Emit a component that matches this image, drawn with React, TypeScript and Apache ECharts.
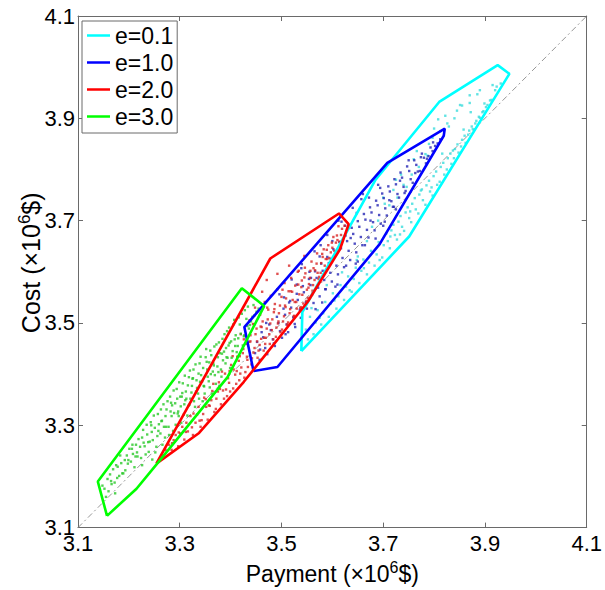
import React, { useEffect, useRef } from "react";
import * as echarts from "echarts";

// Legend labels, one per eccentricity level
const legendLabels = ["e=0.1", "e=1.0", "e=2.0", "e=3.0"];
const tickValues = [3.1, 3.3, 3.5, 3.7, 3.9, 4.1];
const axisRange = [3.1, 4.1];

// Convex hulls (payment, cost) in 10^6 $
const hullE01 = [
  [3.539, 3.445], [3.751, 3.669], [3.948, 3.987], [3.925, 4.004],
  [3.81, 3.932], [3.685, 3.78], [3.541, 3.521], [3.539, 3.445],
];
const hullE10 = [
  [3.445, 3.406], [3.492, 3.414], [3.693, 3.654], [3.819, 3.866],
  [3.821, 3.88], [3.708, 3.813], [3.427, 3.492], [3.445, 3.406],
];
const hullE20 = [
  [3.254, 3.225], [3.338, 3.285], [3.426, 3.385], [3.552, 3.542],
  [3.615, 3.644], [3.632, 3.693], [3.613, 3.714], [3.478, 3.626], [3.254, 3.225],
];
const hullE30 = [
  [3.157, 3.123], [3.215, 3.176], [3.254, 3.223], [3.394, 3.394],
  [3.466, 3.533], [3.422, 3.568], [3.139, 3.19], [3.157, 3.123],
];

// Sampled outcomes (payment, cost)
const pointsE01 = [
  [3.548, 3.487], [3.556, 3.512], [3.563, 3.478], [3.571, 3.525], [3.578, 3.497], [3.586, 3.541],
  [3.593, 3.512], [3.601, 3.558], [3.608, 3.528], [3.616, 3.574], [3.623, 3.545], [3.631, 3.591],
  [3.638, 3.561], [3.646, 3.608], [3.653, 3.578], [3.661, 3.624], [3.668, 3.595], [3.676, 3.641],
  [3.683, 3.612], [3.691, 3.658], [3.698, 3.628], [3.706, 3.675], [3.713, 3.646], [3.72, 3.692],
  [3.727, 3.663], [3.734, 3.709], [3.741, 3.68], [3.748, 3.726], [3.755, 3.697], [3.762, 3.744],
  [3.769, 3.714], [3.776, 3.761], [3.783, 3.731], [3.79, 3.778], [3.797, 3.749], [3.804, 3.796],
  [3.811, 3.776], [3.818, 3.813], [3.825, 3.8], [3.832, 3.831], [3.839, 3.822], [3.846, 3.849],
  [3.853, 3.845], [3.86, 3.866], [3.867, 3.868], [3.874, 3.884], [3.881, 3.89], [3.888, 3.903],
  [3.895, 3.912], [3.902, 3.922], [3.91, 3.935], [3.92, 3.955], [3.931, 3.968],
  [3.8, 3.88], [3.822, 3.905], [3.845, 3.915], [3.79, 3.85], [3.76, 3.82], [3.735, 3.79],
  [3.87, 3.93], [3.89, 3.955], [3.72, 3.76], [3.7, 3.745],
  [3.552, 3.468], [3.567, 3.501], [3.582, 3.519], [3.597, 3.538], [3.612, 3.552], [3.627, 3.571],
  [3.642, 3.586], [3.657, 3.602], [3.672, 3.618], [3.687, 3.634], [3.701, 3.652], [3.709, 3.66],
  [3.716, 3.681], [3.723, 3.672], [3.73, 3.698], [3.737, 3.688], [3.744, 3.716], [3.751, 3.705],
  [3.757, 3.733], [3.764, 3.722], [3.771, 3.751], [3.778, 3.74], [3.785, 3.769], [3.792, 3.757],
  [3.799, 3.787], [3.806, 3.77], [3.813, 3.805], [3.82, 3.79], [3.827, 3.822], [3.834, 3.811],
  [3.841, 3.84], [3.848, 3.833], [3.855, 3.858], [3.862, 3.852], [3.869, 3.876], [3.876, 3.879],
  [3.883, 3.895], [3.89, 3.901], [3.897, 3.914], [3.905, 3.926], [3.913, 3.936], [3.923, 3.962],
  [3.756, 3.79], [3.77, 3.805], [3.783, 3.83], [3.797, 3.862], [3.812, 3.875], [3.826, 3.89],
  [3.84, 3.9], [3.855, 3.925], [3.87, 3.945], [3.74, 3.77], [3.728, 3.745], [3.712, 3.73],
  [3.69, 3.7], [3.668, 3.66], [3.65, 3.63],
  [3.559, 3.529], [3.575, 3.51], [3.589, 3.574], [3.604, 3.544], [3.619, 3.599], [3.634, 3.564],
  [3.648, 3.623], [3.662, 3.607], [3.678, 3.688], [3.693, 3.623], [3.703, 3.733], [3.714, 3.669],
  [3.725, 3.78], [3.733, 3.673], [3.746, 3.766], [3.753, 3.718], [3.766, 3.836], [3.774, 3.759],
  [3.787, 3.827], [3.795, 3.765], [3.808, 3.898], [3.816, 3.831], [3.829, 3.884], [3.837, 3.837],
  [3.851, 3.926], [3.858, 3.878], [3.872, 3.912], [3.885, 3.947], [3.899, 3.929], [3.915, 3.965],
];
const pointsE10 = [
  [3.452, 3.463], [3.461, 3.482], [3.468, 3.451], [3.476, 3.497], [3.483, 3.468], [3.491, 3.512],
  [3.497, 3.484], [3.504, 3.528], [3.51, 3.497], [3.517, 3.543], [3.523, 3.511], [3.53, 3.557],
  [3.536, 3.526], [3.542, 3.572], [3.548, 3.541], [3.554, 3.586], [3.56, 3.555], [3.566, 3.601],
  [3.572, 3.569], [3.578, 3.616], [3.584, 3.584], [3.59, 3.629], [3.596, 3.598], [3.602, 3.644],
  [3.608, 3.612], [3.614, 3.658], [3.62, 3.627], [3.626, 3.671], [3.632, 3.641], [3.638, 3.686],
  [3.644, 3.655], [3.65, 3.699], [3.656, 3.668], [3.662, 3.713], [3.668, 3.682], [3.674, 3.726],
  [3.68, 3.697], [3.686, 3.739], [3.692, 3.711], [3.698, 3.753], [3.704, 3.724], [3.71, 3.767],
  [3.716, 3.738], [3.722, 3.781], [3.728, 3.752], [3.734, 3.794], [3.74, 3.766], [3.747, 3.806],
  [3.754, 3.781], [3.761, 3.818], [3.768, 3.796], [3.776, 3.831], [3.784, 3.812], [3.793, 3.843],
  [3.802, 3.846], [3.812, 3.859],
  [3.54, 3.615], [3.565, 3.64], [3.59, 3.672], [3.612, 3.7], [3.52, 3.585], [3.64, 3.725],
  [3.66, 3.752], [3.58, 3.54], [3.61, 3.575], [3.65, 3.62], [3.7, 3.69], [3.725, 3.722],
  [3.448, 3.441], [3.457, 3.428], [3.464, 3.472], [3.472, 3.439], [3.479, 3.486], [3.487, 3.455],
  [3.494, 3.5], [3.501, 3.471], [3.507, 3.516], [3.513, 3.482], [3.519, 3.53], [3.526, 3.498],
  [3.532, 3.545], [3.538, 3.51], [3.544, 3.56], [3.55, 3.528], [3.557, 3.574], [3.563, 3.539],
  [3.569, 3.588], [3.575, 3.552], [3.581, 3.602], [3.587, 3.566], [3.593, 3.617], [3.599, 3.581],
  [3.605, 3.631], [3.611, 3.595], [3.617, 3.646], [3.623, 3.609], [3.629, 3.66], [3.635, 3.623],
  [3.641, 3.674], [3.647, 3.638], [3.653, 3.688], [3.659, 3.652], [3.665, 3.702], [3.671, 3.667],
  [3.677, 3.716], [3.683, 3.681], [3.689, 3.73], [3.695, 3.694], [3.701, 3.744], [3.707, 3.71],
  [3.713, 3.757], [3.719, 3.727], [3.725, 3.771], [3.731, 3.745], [3.737, 3.784], [3.744, 3.758],
  [3.751, 3.797], [3.758, 3.774], [3.765, 3.809], [3.772, 3.797], [3.78, 3.823], [3.789, 3.826],
  [3.797, 3.836], [3.807, 3.851], [3.555, 3.6], [3.575, 3.63], [3.6, 3.66], [3.625, 3.69],
  [3.648, 3.715], [3.672, 3.745], [3.69, 3.77], [3.53, 3.575], [3.505, 3.55],
  [3.458, 3.448], [3.47, 3.5], [3.485, 3.46], [3.496, 3.556], [3.508, 3.478], [3.515, 3.54],
  [3.527, 3.492], [3.539, 3.607], [3.546, 3.531], [3.558, 3.588], [3.567, 3.527], [3.577, 3.652],
  [3.586, 3.566], [3.597, 3.625], [3.606, 3.571], [3.618, 3.698], [3.627, 3.612], [3.636, 3.666],
  [3.646, 3.616], [3.657, 3.742], [3.664, 3.652], [3.675, 3.7], [3.685, 3.665], [3.694, 3.764],
  [3.703, 3.698], [3.712, 3.74], [3.721, 3.727], [3.733, 3.778], [3.742, 3.754], [3.75, 3.818],
  [3.763, 3.793], [3.774, 3.824], [3.786, 3.821], [3.798, 3.853],
];
const pointsE20 = [
  [3.268, 3.241], [3.279, 3.262], [3.284, 3.252], [3.292, 3.281], [3.297, 3.259], [3.305, 3.297],
  [3.309, 3.272], [3.316, 3.288], [3.321, 3.318], [3.326, 3.281], [3.331, 3.305], [3.337, 3.336],
  [3.341, 3.297], [3.346, 3.322], [3.351, 3.351], [3.355, 3.311], [3.359, 3.338], [3.364, 3.367],
  [3.368, 3.326], [3.372, 3.352], [3.377, 3.384], [3.381, 3.341], [3.385, 3.368], [3.389, 3.401],
  [3.393, 3.357], [3.397, 3.383], [3.401, 3.418], [3.405, 3.372], [3.409, 3.399], [3.413, 3.434],
  [3.417, 3.388], [3.421, 3.413], [3.425, 3.449], [3.429, 3.404], [3.433, 3.428], [3.437, 3.463],
  [3.441, 3.419], [3.445, 3.442], [3.449, 3.478], [3.453, 3.432], [3.457, 3.457], [3.461, 3.492],
  [3.465, 3.446], [3.469, 3.471], [3.473, 3.507], [3.477, 3.459], [3.481, 3.486], [3.485, 3.521],
  [3.489, 3.473], [3.493, 3.499], [3.497, 3.534], [3.501, 3.487], [3.505, 3.513], [3.509, 3.548],
  [3.513, 3.501], [3.517, 3.527], [3.521, 3.561], [3.525, 3.514], [3.529, 3.541], [3.533, 3.575],
  [3.537, 3.529], [3.541, 3.555], [3.545, 3.589], [3.549, 3.543], [3.553, 3.569], [3.557, 3.602],
  [3.561, 3.563], [3.565, 3.584], [3.569, 3.616], [3.573, 3.586], [3.577, 3.598], [3.581, 3.629],
  [3.585, 3.612], [3.589, 3.643], [3.594, 3.627], [3.599, 3.657], [3.604, 3.641], [3.609, 3.671],
  [3.614, 3.659], [3.619, 3.684],
  [3.462, 3.561], [3.471, 3.584], [3.448, 3.53], [3.492, 3.596], [3.515, 3.612], [3.437, 3.505],
  [3.42, 3.478], [3.545, 3.631],
  [3.272, 3.252], [3.288, 3.271], [3.301, 3.284], [3.313, 3.305], [3.324, 3.296], [3.334, 3.321],
  [3.343, 3.31], [3.352, 3.336], [3.362, 3.349], [3.371, 3.332], [3.379, 3.371], [3.387, 3.352],
  [3.395, 3.392], [3.399, 3.366], [3.406, 3.409], [3.411, 3.381], [3.416, 3.426], [3.419, 3.401],
  [3.424, 3.441], [3.427, 3.393], [3.431, 3.459], [3.434, 3.414], [3.439, 3.476], [3.442, 3.431],
  [3.444, 3.498], [3.447, 3.451], [3.451, 3.489], [3.455, 3.446], [3.458, 3.516], [3.46, 3.469],
  [3.463, 3.503], [3.467, 3.541], [3.468, 3.459], [3.471, 3.489], [3.474, 3.526], [3.476, 3.478],
  [3.479, 3.553], [3.482, 3.507], [3.484, 3.468], [3.487, 3.537], [3.49, 3.491], [3.492, 3.566],
  [3.495, 3.519], [3.498, 3.482], [3.5, 3.551], [3.503, 3.503], [3.506, 3.578], [3.508, 3.531],
  [3.511, 3.497], [3.514, 3.562], [3.516, 3.519], [3.519, 3.588], [3.522, 3.545], [3.524, 3.513],
  [3.527, 3.573], [3.53, 3.528], [3.532, 3.6], [3.535, 3.556], [3.538, 3.531], [3.54, 3.583],
  [3.543, 3.538], [3.546, 3.608], [3.55, 3.565], [3.552, 3.549], [3.556, 3.588], [3.559, 3.62],
  [3.562, 3.574], [3.566, 3.603], [3.57, 3.636], [3.574, 3.59], [3.578, 3.617], [3.583, 3.644],
  [3.587, 3.625], [3.592, 3.652], [3.597, 3.638], [3.602, 3.668], [3.607, 3.657], [3.612, 3.689],
  [3.617, 3.672], [3.624, 3.69],
  [3.285, 3.265], [3.298, 3.286], [3.312, 3.287], [3.327, 3.323], [3.339, 3.309], [3.348, 3.354],
  [3.357, 3.339], [3.366, 3.381], [3.375, 3.366], [3.383, 3.405], [3.391, 3.37], [3.398, 3.406],
  [3.404, 3.435], [3.412, 3.406], [3.418, 3.435], [3.426, 3.468], [3.432, 3.434], [3.439, 3.464],
  [3.446, 3.497], [3.452, 3.464], [3.459, 3.493], [3.466, 3.471], [3.472, 3.53], [3.478, 3.499],
  [3.486, 3.527], [3.494, 3.503], [3.502, 3.565], [3.507, 3.534], [3.518, 3.562], [3.526, 3.541],
  [3.534, 3.602], [3.539, 3.57], [3.547, 3.597], [3.554, 3.576], [3.563, 3.607], [3.571, 3.598],
  [3.58, 3.635], [3.59, 3.625], [3.6, 3.647], [3.61, 3.662],
];
const pointsE30 = [
  [3.148, 3.182], [3.16, 3.171], [3.158, 3.195], [3.172, 3.188], [3.169, 3.214], [3.181, 3.201],
  [3.185, 3.226], [3.193, 3.212], [3.196, 3.241], [3.204, 3.229], [3.207, 3.262], [3.211, 3.218],
  [3.216, 3.247], [3.219, 3.273], [3.224, 3.236], [3.228, 3.291], [3.231, 3.259], [3.236, 3.282],
  [3.239, 3.248], [3.243, 3.306], [3.247, 3.271], [3.251, 3.295], [3.254, 3.258], [3.257, 3.322],
  [3.262, 3.284], [3.265, 3.309], [3.268, 3.341], [3.271, 3.276], [3.274, 3.331], [3.278, 3.297],
  [3.281, 3.356], [3.284, 3.318], [3.287, 3.289], [3.291, 3.343], [3.294, 3.371], [3.297, 3.327],
  [3.301, 3.356], [3.303, 3.305], [3.306, 3.382], [3.309, 3.341], [3.312, 3.366], [3.315, 3.319],
  [3.318, 3.394], [3.321, 3.352], [3.324, 3.377], [3.327, 3.409], [3.33, 3.336], [3.333, 3.388],
  [3.336, 3.362], [3.339, 3.421], [3.342, 3.398], [3.345, 3.347], [3.348, 3.376], [3.351, 3.433],
  [3.354, 3.409], [3.357, 3.386], [3.36, 3.446], [3.363, 3.362], [3.366, 3.421], [3.369, 3.398],
  [3.372, 3.458], [3.375, 3.433], [3.378, 3.377], [3.381, 3.409], [3.384, 3.469], [3.387, 3.444],
  [3.39, 3.421], [3.393, 3.484], [3.396, 3.456], [3.399, 3.412], [3.402, 3.432], [3.405, 3.497],
  [3.408, 3.468], [3.412, 3.443], [3.416, 3.511], [3.42, 3.479], [3.424, 3.456], [3.428, 3.525],
  [3.433, 3.494], [3.436, 3.489], [3.443, 3.512], [3.447, 3.515], [3.455, 3.528],
  [3.152, 3.176], [3.163, 3.204], [3.177, 3.197], [3.183, 3.241], [3.189, 3.206], [3.198, 3.225],
  [3.201, 3.254], [3.213, 3.239], [3.214, 3.262], [3.222, 3.258], [3.226, 3.276], [3.233, 3.243],
  [3.235, 3.301], [3.241, 3.268], [3.245, 3.287], [3.249, 3.319], [3.252, 3.247], [3.256, 3.279],
  [3.259, 3.302], [3.263, 3.331], [3.266, 3.262], [3.269, 3.297], [3.272, 3.318], [3.276, 3.347],
  [3.279, 3.281], [3.282, 3.327], [3.285, 3.339], [3.288, 3.368], [3.292, 3.301], [3.295, 3.352],
  [3.298, 3.318], [3.299, 3.384], [3.302, 3.337], [3.305, 3.363], [3.308, 3.321], [3.31, 3.397],
  [3.313, 3.352], [3.316, 3.378], [3.317, 3.338], [3.32, 3.407], [3.323, 3.364], [3.326, 3.392],
  [3.328, 3.347], [3.331, 3.419], [3.334, 3.373], [3.337, 3.401], [3.338, 3.352], [3.341, 3.434],
  [3.344, 3.386], [3.346, 3.412], [3.349, 3.362], [3.352, 3.449], [3.355, 3.395], [3.358, 3.423],
  [3.359, 3.374], [3.362, 3.437], [3.365, 3.405], [3.368, 3.454], [3.371, 3.381], [3.374, 3.415],
  [3.377, 3.462], [3.379, 3.441], [3.382, 3.395], [3.385, 3.427], [3.388, 3.478], [3.391, 3.451],
  [3.394, 3.432], [3.397, 3.491], [3.401, 3.464], [3.404, 3.445], [3.407, 3.506], [3.41, 3.476],
  [3.414, 3.455], [3.418, 3.497], [3.422, 3.518], [3.426, 3.474], [3.431, 3.508], [3.434, 3.532],
  [3.44, 3.503], [3.445, 3.535], [3.451, 3.522], [3.226, 3.222], [3.246, 3.233], [3.208, 3.244],
  [3.192, 3.232], [3.175, 3.222], [3.166, 3.185], [3.155, 3.16], [3.173, 3.167],
  [3.165, 3.191], [3.178, 3.219], [3.187, 3.206], [3.199, 3.232], [3.206, 3.254], [3.217, 3.239],
  [3.229, 3.266], [3.238, 3.267], [3.244, 3.3], [3.258, 3.289], [3.264, 3.308], [3.273, 3.297],
  [3.283, 3.344], [3.289, 3.324], [3.296, 3.323], [3.304, 3.356], [3.311, 3.349], [3.319, 3.34],
  [3.325, 3.391], [3.332, 3.366], [3.34, 3.385], [3.347, 3.377], [3.353, 3.424], [3.361, 3.4],
  [3.367, 3.417], [3.376, 3.404], [3.383, 3.44], [3.392, 3.433], [3.398, 3.461], [3.409, 3.455],
  [3.415, 3.47], [3.427, 3.476], [3.438, 3.496],
];

const hullColors = ["#00ffff", "#0000ff", "#ff0000", "#00ff00"];
const dotColors = ["#3adcdc", "#2424b4", "#d82424", "#28c828"];

const FONT = 'Arial, "Liberation Sans", Helvetica, sans-serif';
const frameColor = "#6a6a6a";

export default function App() {
  const ref = useRef<HTMLDivElement>(null);

  useEffect(() => {
    if (!ref.current) return;
    const chart = echarts.init(ref.current, null, { renderer: "svg" });

    const hulls = [hullE01, hullE10, hullE20, hullE30];
    const points = [pointsE01, pointsE10, pointsE20, pointsE30];

    const xNameRich = {
      a: { fontSize: 23, fontFamily: FONT, color: "#000", lineHeight: 28 },
      s: { fontSize: 16, fontFamily: FONT, color: "#000", lineHeight: 16, verticalAlign: "top" as const },
    };
    const yNameRich = {
      a: { fontSize: 25, fontFamily: FONT, color: "#000", lineHeight: 30 },
      s: { fontSize: 17, fontFamily: FONT, color: "#000", lineHeight: 17, verticalAlign: "top" as const },
    };

    const baseAxis = {
      type: "value" as const,
      min: axisRange[0],
      max: axisRange[1],
      splitLine: { show: false },
      axisLine: { show: true, onZero: false, lineStyle: { color: frameColor, width: 1 } },
      axisTick: {
        show: true,
        inside: true,
        length: 5,
        customValues: tickValues,
        lineStyle: { color: frameColor, width: 1 },
      },
    };

    const scatterSeries = points.map((pts, i) => ({
      name: legendLabels[i] + " samples",
      type: "scatter" as const,
      data: pts,
      symbol: "rect",
      symbolSize: 2.4,
      itemStyle: { color: dotColors[i] },
      silent: true,
      z: 2,
    }));

    const hullSeries = hulls.map((h, i) => ({
      name: legendLabels[i],
      type: "line" as const,
      data: h,
      showSymbol: false,
      symbol: "none",
      lineStyle: { color: hullColors[i], width: 2.6 },
      itemStyle: { color: hullColors[i] },
      silent: true,
      z: 3,
    }));

    chart.setOption({
      animation: false,
      backgroundColor: "#fff",
      grid: { left: 78, top: 16, width: 513, height: 513, containLabel: false },
      legend: {
        data: legendLabels,
        orient: "vertical",
        left: 82,
        top: 21,
        icon: "rect",
        itemWidth: 23,
        itemHeight: 2.5,
        itemGap: 0,
        padding: [1, 4, 3, 5],
        borderColor: frameColor,
        borderWidth: 1,
        backgroundColor: "#fff",
        selectedMode: false,
        textStyle: { fontSize: 23, fontFamily: FONT, color: "#000", lineHeight: 27 },
      },
      xAxis: [
        {
          ...baseAxis,
          position: "bottom",
          axisLabel: {
            customValues: tickValues,
            formatter: (v: number) => v.toFixed(1),
            fontSize: 22,
            fontFamily: FONT,
            color: "#000",
            margin: 5,
          },
          name: "{a|Payment (×10}{s|6}{a|$)}",
          nameLocation: "middle",
          nameGap: 31,
          nameTextStyle: { rich: xNameRich },
        },
        { ...baseAxis, position: "top", axisLabel: { show: false } },
      ],
      yAxis: [
        {
          ...baseAxis,
          position: "left",
          axisLabel: {
            customValues: tickValues,
            formatter: (v: number) => v.toFixed(1),
            fontSize: 22,
            fontFamily: FONT,
            color: "#000",
            margin: 3,
          },
          name: "{a|Cost (×10}{s|6}{a|$)}",
          nameLocation: "middle",
          nameRotate: 90,
          nameGap: 32,
          nameMoveOverlap: false,
          nameTextStyle: { rich: yNameRich, padding: [0, 0, 0, 18] },
        },
        { ...baseAxis, position: "right", axisLabel: { show: false } },
      ],
      series: [
        {
          name: "diagonal",
          type: "line",
          data: [
            [axisRange[0], axisRange[0]],
            [axisRange[1], axisRange[1]],
          ],
          showSymbol: false,
          symbol: "none",
          lineStyle: { color: "#8a8a8a", width: 0.9, type: [6, 3, 2, 3] },
          silent: true,
          z: 1,
        },
        ...scatterSeries,
        ...hullSeries,
      ],
    });

    return () => chart.dispose();
  }, []);

  return (
    <div
      ref={ref}
      style={{ position: "fixed", left: 0, top: 0, width: 605, height: 590, background: "#fff" }}
    />
  );
}
